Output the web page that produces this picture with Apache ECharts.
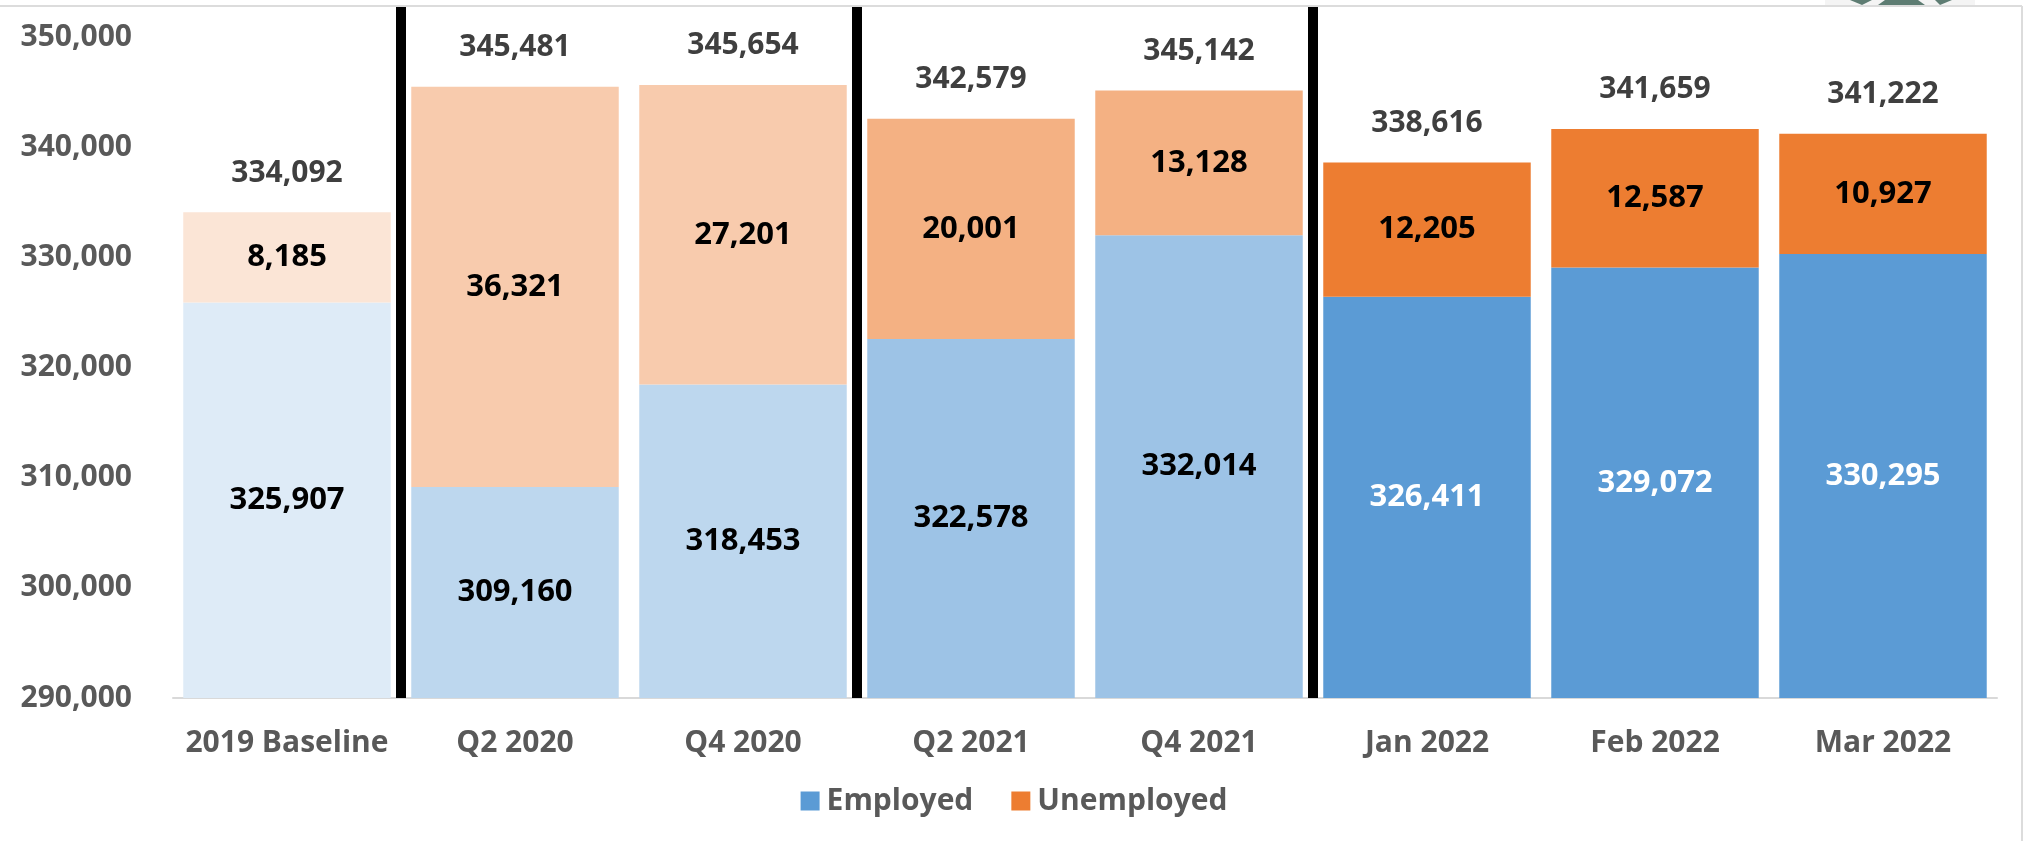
<!DOCTYPE html>
<html>
<head>
<meta charset="utf-8">
<script src="https://cdn.jsdelivr.net/npm/echarts@6/dist/echarts.min.js"></script>
<style>
html,body{margin:0;padding:0;background:#fff;}
#chart{width:2028px;height:841px;}
</style>
</head>
<body>
<div id="chart"></div>
<script>
const categories = ['2019 Baseline','Q2 2020','Q4 2020','Q2 2021','Q4 2021','Jan 2022','Feb 2022','Mar 2022'];
const employed = [325907, 309160, 318453, 322578, 332014, 326411, 329072, 330295];
const unemployed = [8185, 36321, 27201, 20001, 13128, 12205, 12587, 10927];
const totals = [334092, 345481, 345654, 342579, 345142, 338616, 341659, 341222];
const yTicks = [290000, 300000, 310000, 320000, 330000, 340000, 350000];
const employedColors = ['#DEEBF7','#BDD7EE','#BDD7EE','#9DC3E6','#9DC3E6','#5B9BD5','#5B9BD5','#5B9BD5'];
const unemployedColors = ['#FBE5D6','#F8CBAD','#F8CBAD','#F4B183','#F4B183','#ED7D31','#ED7D31','#ED7D31'];
const employedLabelColors = ['#000','#000','#000','#000','#000','#fff','#fff','#fff'];
const dividerAfter = [0, 2, 4];

const FONT = '"Open Sans", "Noto Sans", sans-serif';
const fmt = v => Number(v).toLocaleString('en-US');

const chart = echarts.init(document.getElementById('chart'), null, {renderer:'canvas'});
const option = {
  animation: false,
  backgroundColor: '#fff',
  textStyle: {fontFamily: FONT},
  grid: {left: 173, right: 31, top: 37, bottom: 143},
  legend: {
    data: [{name:'Employed', itemStyle:{color:'#5B9BD5'}}, {name:'Unemployed', itemStyle:{color:'#ED7D31'}}],
    bottom: 20, left: 'center',
    icon: 'rect', itemWidth: 19, itemHeight: 19, itemGap: 38,
    textStyle: {fontFamily: FONT, fontWeight: 'bold', fontSize: 30, color: '#595959', padding:[0,0,0,2]}
  },
  xAxis: {
    type: 'category', data: categories,
    axisLine: {lineStyle: {color: '#D9D9D9', width: 2}},
    axisTick: {show: false},
    axisLabel: {interval: 0, fontFamily: FONT, fontWeight: 'bold', fontSize: 30, color: '#595959', margin: 30}
  },
  yAxis: {
    type: 'value', min: yTicks[0], max: yTicks[yTicks.length-1], interval: 10000,
    splitLine: {show: false}, axisLine: {show: false}, axisTick: {show: false},
    axisLabel: {fontFamily: FONT, fontWeight: 'bold', fontSize: 30, color: '#595959', margin: 41, formatter: v => fmt(v)}
  },
  series: [
    {
      name: 'Employed', type: 'bar', stack: 'total', barCategoryGap: '9%', barGap: '-100%',
      data: employed.map((v,i) => ({value: v, itemStyle: {color: employedColors[i]},
        label: {color: employedLabelColors[i]}})),
      label: {show: true, position: 'inside', fontFamily: FONT, fontWeight: 'bold', fontSize: 31, formatter: p => fmt(p.value)}
    },
    {
      name: 'Unemployed', type: 'bar', stack: 'total',
      data: unemployed.map((v,i) => ({value: v, itemStyle: {color: unemployedColors[i]}})),
      label: {show: true, position: 'inside', color: '#000', fontFamily: FONT, fontWeight: 'bold', fontSize: 31, formatter: p => fmt(p.value)}
    },
    {
      name: 'Total', type: 'bar', data: totals, barGap: '-100%', z: 1, silent: true,
      itemStyle: {color: 'rgba(0,0,0,0)'},
      label: {show: true, position: 'top', distance: 24, color: '#3F3F3F', fontFamily: FONT, fontWeight: 'bold', fontSize: 30, formatter: p => fmt(p.value)}
    }
  ]
};
chart.setOption(option);

// Dividers between category groups, positioned through the axis scale
const gridRect = chart.getModel().getComponent('grid').coordinateSystem.getRect();
const graphics = [];
dividerAfter.forEach(i => {
  const x1 = chart.convertToPixel({xAxisIndex: 0}, categories[i]);
  const x2 = chart.convertToPixel({xAxisIndex: 0}, categories[i+1]);
  const xm = (x1 + x2) / 2;
  graphics.push({type:'rect', shape:{x: xm - 5, y: 6, width: 10, height: gridRect.y + gridRect.height - 6}, style:{fill:'#000'}, z: 10});
});
// frame (top & right border of the chart box)
graphics.push({type:'line', shape:{x1:0, y1:6, x2:2022, y2:6}, style:{stroke:'#DCDCDC', lineWidth:2}, z:20});
graphics.push({type:'line', shape:{x1:2022, y1:6, x2:2022, y2:841}, style:{stroke:'#DCDCDC', lineWidth:2}, z:20});
// partial logo peeking above the frame
graphics.push({type:'rect', shape:{x:1825, y:0, width:150, height:5}, style:{fill:'#F4F4F4'}, z:19});
graphics.push({type:'polygon', shape:{points:[[1850,0],[1862,5],[1872,0]]}, style:{fill:'#5E7D73'}, z:21});
graphics.push({type:'polygon', shape:{points:[[1885,0],[1878,5],[1925,5],[1918,0]]}, style:{fill:'#5E7D73'}, z:21});
graphics.push({type:'polygon', shape:{points:[[1935,0],[1940,5],[1952,0]]}, style:{fill:'#5E7D73'}, z:21});
chart.setOption({graphic: graphics});
</script>
</body>
</html>
